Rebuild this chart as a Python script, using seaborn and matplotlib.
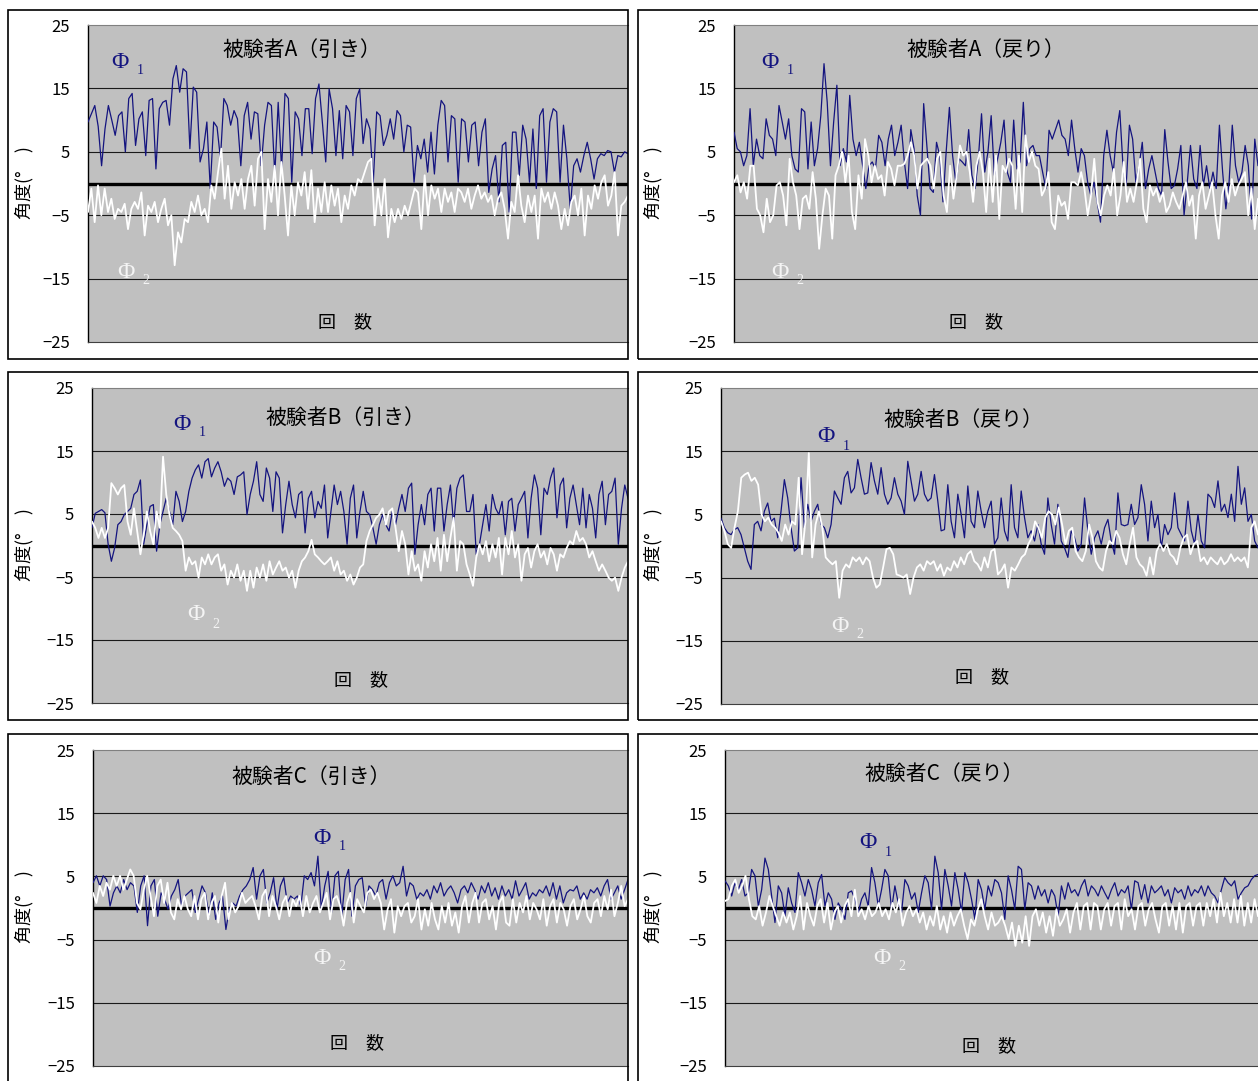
"""
Joint angle traces (Phi1 / Phi2) for three subjects, pull and return phases.
Six Excel-style panels laid out as a 3x2 collage.
"""

import matplotlib
matplotlib.use("Agg")
import matplotlib.pyplot as plt
from matplotlib.patches import Rectangle
import numpy as np
import seaborn as sns

W, H = 1258, 1081

# ---- data (degrees) ----
A_pull_phi1 = [9.7, 11, 12.3, 9, 2.8, 8.6, 12.3, 10, 7.6, 10.7, 11.3, 5, 13.4, 14.2, 6, 10.2, 11.3, 4.4, 13.1, 13.4,
               2.3, 11.8, 12.8, 13.1, 9.2, 16.5, 18.6, 14.4, 18.1, 17.6, 5.5, 15.2, 14.4, 3.4, 5.5, 9.7, -0.8, 9.7, 8.9, 3.9,
               13.4, 12.3, 9.2, 11.5, 10.2, 2.8, 10.7, 12.8, 7, 11.3, 11, 2.8, 9.2, 12.8, 12.3, 1.3, 12.8, 2.3, 14.2, 13.4,
               0.2, 11.3, 10.2, 4.4, 11.8, 11.8, 4.7, 13.4, 15.7, 9.7, 3.4, 14.9, 11.8, 4.4, 11.5, 3.9, 12.3, 11.3, 4.4, 13.4,
               14.9, 6.3, 10.2, 8.6, 0.2, 11.3, 10.7, 6, 7.6, 10.2, 7, 11.5, 10.7, 5, 9.2, 8.9, 0.2, 6, 3.9, 7,
               1.8, 8.1, 1.5, 9.2, 13.1, 12.3, 3.4, 10.7, 10.2, 0.2, 10.2, 9.7, 3.4, 9.2, 9.7, 2.8, 8.1, 10.2, -1.4, 2.3,
               4.4, -2.9, 6, 6.5, -4.5, 8.1, 8.1, 1.3, 9.2, 7, 0.2, 8.6, -0.8, 10.7, 11.8, 0.2, 9.7, 11.8, 11.3, 0.2,
               9.2, 3.9, -4, 2.8, 3.9, 1.8, 4.4, 6.5, 3.9, 0.7, 3.9, 4.7, 4.4, 5.2, 5, 1.8, 4.4, 4.2, 5, 4.7]
A_pull_phi2 = [-4.5, -0.8, -6.1, -0.3, -5, -0.8, -4.5, -2.4, -5.6, -4, -4.5, -3.2, -7.2, -4, -2.9, -4, -1.4, -8.2, -3.5, -4.5,
               -2.9, -6.1, -4, -2.4, -6.6, -5, -12.9, -7.7, -9.3, -5.6, -6.1, -2.9, -4.5, -1.9, -5, -4, -6.1, -0.3, -2.4, 1.8,
               5.5, -2.4, 2.8, -4, 0.2, -1.9, 0.7, -4, 0.7, 2.8, -3.5, 3.9, 5, -7.2, 0.7, -2.9, 2.8, -5, 3.4, -1.9,
               -8.2, -0.3, -5, 0.2, -1.9, 1.8, -4, 2.1, -6.1, -0.8, -4.5, 0.2, -4.5, -0.3, -3.5, -0.8, -6.1, -1.9, -4, -0.3,
               -1.9, 0.7, 0.2, 1.8, 3.4, 3.9, -6.6, -0.8, -5, 0.7, -8.5, -4, -6.1, -4, -5.6, -3.5, -5, -2.9, -0.8, -1.4,
               -7.2, 1.3, -5, -0.3, -2.4, -0.8, -4.5, -0.8, -2.9, -1.4, -4.5, -0.8, -1.4, -2.9, -0.8, -4, -1.9, -0.3, -2.4, -1.4,
               -2.9, -1.9, -5, -2.4, -1.4, -4, -8.7, -2.9, -4.5, 1.3, -3.5, -6.1, -1.9, -4.5, -1.9, -8.7, -0.8, -2.9, -1.4, -4,
               -1.4, -3.5, -7.2, -4, -6.6, -2.9, -1.9, -5, -0.8, -8.2, -1.9, -4, -0.3, -2.4, 0.2, 1.3, -3.5, -1.9, 1.8, -8.2,
               -3.5, -2.9, -1.9]

A_ret_phi1 = [8.1, 5.5, 5, 2.8, 4.4, 11.8, 2.8, 7, 4.4, 3.9, 10.2, 7.6, 7, 4.4, 12.3, 9.7, 7, 10.2, 4.4, 2.3,
              1.8, 11.8, 11.3, 2.3, 9.7, 2.8, 5.5, 10.7, 18.9, 12.8, 2.8, 9.7, 15.5, 2.8, 5.5, 3.4, 13.9, 7, 4.4, 6.5,
              2.8, -0.8, 2.8, 3.4, 2.3, 7.6, 6.5, 2.8, 7, 9.2, 4.4, 6.5, 9.2, 3.4, -0.8, 8.5, 5.5, -1.9, -5, 12.6,
              6, -0.8, -1.4, 6.5, 4.4, -2.9, 5, 12, 4.4, 0.2, 3.9, 3.4, 2.8, 8.5, 1.3, -0.8, 3.9, 11, 1.8, 5,
              10.7, 1.3, 3.9, 6.5, 10, 1.8, 0.2, 10, 2.3, 3.4, 12.8, 2.8, 5.5, 6, 4.4, 4.4, 1.8, -0.8, 8.4, 7,
              8.5, 10, 7.6, 7, 4.4, 10, 5.5, 1.8, 5.5, 4.4, 0.2, -1.9, 0.2, -2.9, -6.1, 4.4, 8.4, 4.4, 1.8, 8.1,
              11.5, 2.8, -0.3, 9.2, 7, 0.2, 2.8, 6.5, -0.8, 2.3, 4.4, 1.8, -0.8, -1.9, 8.5, 3.4, -0.8, -0.3, 2.3, 6,
              -5, 0.2, 6, 0.7, -0.8, 6, -0.3, 2.8, -0.8, 1.8, -0.8, 9.2, 1.8, -4, 0.2, 9.2, 2.8, 0.2, 1.8, 6,
              2.8, -5.6, 7, 2.8]
A_ret_phi2 = [0.2, 1.3, -1.4, 0.2, -2.4, 2.8, 2.8, -4, -5, -7.7, -2.4, -6.1, -5, -0.3, 0.2, -1.9, -6.6, 3.9, 0.2, -1.9,
              -7.2, -2.4, -1.9, -4, 1.8, -2.4, -10.3, -5, -0.8, -1.9, -8.7, 1.3, 2.8, 5, 0.2, 4.4, -4.5, -7.2, 1.3, -2.4,
              7, 4.4, 0.2, 2.8, 0.7, 1.3, -1.9, 3.4, 2.3, -0.3, 2.8, 2.8, 3.1, 4.4, 6.5, 4.4, -0.8, 2.8, 3.4, 3.9,
              2.8, -0.8, 3.9, 5, -1.9, -4.5, 2.8, -2.4, 1.3, 6, 4.4, 5, 1.8, -2.9, 2.8, 5, 1.8, -4.5, 3.9, -2.9,
              4.4, -5.6, 2.8, 1.8, 3.9, 2.8, -4, 4.4, -4.5, 7.6, 3.4, 5, 2.8, 2.3, -1.9, -0.8, 1.8, -6.1, -7.2, -1.9,
              -3.5, -2.9, -5.6, 0.2, 0.2, -0.3, 1.8, -0.8, -5, -1.9, 3.9, -2.9, -5, -1.9, -0.3, -1.9, 2.3, -5, -1.9, 3.4,
              -2.9, -0.8, -2.9, 0.2, 3.9, -4, -6.1, -0.3, -1.9, -0.8, -2.9, -1.4, -4.5, -3.5, -1.4, -2.9, -4, -1.9, 0.2, -3.5,
              -1.9, -8.7, -1.9, 0.2, -4, -1.9, 0.2, -5, -8.7, -1.9, 0.2, -2.9, 0.7, -1.9, -0.3, 0.7, 1.8, -5, -0.8, -7.2,
              -2.4]

B_pull_phi1 = [2.8, 5.1, 5.4, 5.7, 5.2, 0.2, -2.5, -0.4, 3.3, 3.8, 4.9, 5.4, 5.9, 8.1, 8.6, 10.4, 0.2, 3.3, 6.2, 6.5,
               -0.9, 3.3, 5.4, 7.5, 5.4, 3.3, 8.6, 7, 3.8, 5.4, 8.6, 10.7, 12, 12.8, 10.7, 13.3, 13.8, 10.9, 12.3, 13.3,
               11.7, 9.4, 10.7, 10.2, 8.1, 10.9, 11.2, 11.7, 4.9, 8.1, 10.2, 13.3, 8.1, 7, 12.3, 10.7, 5.4, 11.7, 10.7, 2,
               6.5, 10.2, 6.5, 4.4, 8.1, 8.6, 2, 7.5, 8.6, 4.4, 7, 5.9, 9.6, 1.2, 5.4, 9.6, 6.5, 8.6, 5.4, 0.2,
               7.5, 9.6, 1.2, 5.4, 8.6, 5.4, 4.9, 2.8, 0.2, 3.3, 4.9, 3.3, 2.3, 5.4, 3.3, 5.9, 8.1, 5.4, 9.1, 9.9,
               -1.4, 3.3, 6.5, 3.3, 8.1, 9.1, 2.3, 9.1, 9.1, 2.3, 6.5, 9.6, 3.3, 9.1, 10.7, 11.2, 5.4, 5.4, 8.1, -1.4,
               0.2, 3.3, 6.5, 2.3, 8.1, 5.9, 4.9, 7, 1.7, 7, 7.5, 2.3, 6.5, 7.5, 8.6, 1.2, 7.5, 11.2, 9.1, 1.7,
               9.1, 8.1, 10.7, 12.3, 4.4, 9.6, 10.7, 2.8, 7.5, 9.6, 6.5, 3.3, 9.1, 2.8, 8.1, 5.9, 1.2, 8.1, 10.2, 3.3,
               8.1, 8.6, 10.7, 0.2, 5.9, 9.6, 7.5]
B_pull_phi2 = [3.8, 2.8, 1.2, 2.8, 1.2, 2.8, 9.9, 9.1, 8.1, 9.1, 9.6, 3.8, 1.7, 5.9, 2.3, -1.4, 1.7, 5.4, 2.3, 0.2,
               5.4, 2.8, 14.1, 8.1, 4.9, 2.8, 2.3, 1.7, 0.7, -4, -1.9, -3, -2.5, -5.1, -1.9, -3, -1.4, -3, -1.9, -1.4,
               -4, -3, -6.2, -4, -5.1, -3, -5.6, -4, -7.2, -4, -6.7, -3.5, -5.1, -3, -5.6, -2.5, -4.6, -3.5, -2.5, -4,
               -3.5, -5.1, -4, -6.7, -4, -2.5, -1.9, -0.9, 0.9, -1.4, -1.9, -2.5, -3, -2.5, -1.9, -4, -2.5, -4.6, -4, -5.6,
               -4.6, -6.2, -5.1, -3.5, -3, 0.7, 2.3, 3.3, 4.4, 4.9, 5.9, 3.3, 5.4, 5.9, 2.8, -0.9, 2.3, 0.2, -4.6, -0.9,
               -4, -3, -5.6, -0.9, -3.5, 0.2, -2.5, 1.2, -4, 1.7, -2.5, 1.2, 4.4, -4, 0.7, 0.2, -3, -4.6, -6.4, -1.9,
               0.2, -1.4, 0.7, -2.5, 0.2, -1.9, 1.2, -4.6, 1.2, -1.4, 2.3, -1.9, 0.2, -5.6, -1.4, -0.4, -3.5, -0.9, 0.2, -1.9,
               -0.9, -3, -0.4, -1.4, -4, -1.4, -1.9, -0.4, 0.7, 0.2, 2.3, 0.7, 1.2, 0.2, -1.9, -0.9, -2.5, -4, -3, -4,
               -5.1, -5.6, -5.1, -7.2, -5.1, -3.5, -2.5]

B_ret_phi1 = [4.4, 2.9, 2.1, 1.8, 2.6, 2.9, 1.8, -0.3, -2.4, -3.7, 3.4, 3.9, 2.4, 5.5, 6.8, 3.9, 4.4, 1.3, 5.5, 10.5,
              7.6, 2.9, -0.8, -0.3, 10.8, 2.9, 6.6, 3.9, 5.5, 6.6, 3.4, 2.9, 1.3, 3.4, 8.7, 7.6, 6.6, 10.8, 11.8, 8.4,
              9.2, 13.7, 10.8, 8.2, 8.4, 13.2, 10.3, 8.2, 12.4, 8.2, 6.6, 7.6, 10.8, 8.2, 7.1, 5, 13.4, 10.3, 7.1, 8.2,
              11.8, 8.2, 7.1, 7.6, 11.3, 7.1, 2.4, 2.6, 9.7, 3.9, 1.3, 8.2, 5, 1.3, 9.5, 3.9, 2.9, 8.7, 5.5, 2.9,
              5.5, 7.1, 0.3, 1.3, 7.6, 2.4, 0.8, 9.7, 2.9, 1.3, 8.7, 4.5, 1.3, 2.4, 0.8, 3.4, 0.3, -1.3, 7.6, 3.4,
              0.3, 6.6, 0.8, -0.3, -1.8, 2.4, 1.3, -0.8, 0.3, 7.6, 2.4, -1.3, 1.3, 2.4, 0.3, 2.9, 4.2, 0.8, -1.3, 8.4,
              3.4, 3.2, 3.4, 6.6, 3.4, 4.5, 9.7, 6.6, 0.8, 7.1, 2.9, 5, -0.3, 3.4, 1.8, 2.9, 8.4, 2.9, 1.8, 0.8,
              7.1, 2.4, 0.3, 5, 0.8, -0.3, 8.2, 7.6, 6.1, 10.3, 5.5, 6.6, 4.5, 8.2, 3.9, 12.6, 6.6, 9.2, 3.9, 5,
              0.8, -0.3]
B_ret_phi2 = [3.9, 2.4, 0.3, -0.3, 2.9, 5.5, 10.8, 11.3, 11.6, 10.3, 10.8, 9.7, 5, 3.9, 4.5, 3.4, 2.9, 2.1, 0.8, 3.4,
              1.8, 3.9, 3.4, 10.8, -1.3, 3.9, 14.7, -1.8, 3.4, 5.5, 2.9, -1.8, -2.4, -2.9, -2.4, -8.2, -3.9, -2.9, -3.4, -1.8,
              -2.4, -1.8, -2.9, -1.8, -2.4, -5, -6.6, -6.1, -3.4, -0.5, -0.3, -1.3, -4.5, -4.7, -5, -4.5, -7.6, -5, -3.4, -2.9,
              -3.9, -2.4, -2.9, -2.4, -3.9, -2.9, -4.7, -3.4, -3.9, -2.4, -3.4, -1.8, -2.9, -1.3, -0.8, -2.4, -2.9, -3.9, -1.8, -3.4,
              -0.8, -0.5, -4.5, -3.9, -2.9, -6.6, -3.4, -3.9, -2.9, -1.8, -1.3, 0.3, 1.3, 3.9, 2.9, 1.3, 4.5, 5.5, 5, 3.4,
              6.1, 3.4, 0.3, 2.4, 2.9, -0.8, -1.8, -2.4, -0.8, 3.4, 1.3, -2.4, -3.4, -3.9, -0.8, 0.8, 0.3, 2.4, 1.3, -1.3,
              -2.9, 0.3, 2.9, -1.8, -2.9, -3.4, -4.7, -1.8, -4.5, -0.8, 0.3, -0.8, 0.3, -1.3, -1.8, -2.9, -0.3, 1.3, 1.8, -1.3,
              0.3, 0.8, -2.4, -1.8, -2.9, -1.8, -2.4, -2.9, -1.8, -2.9, -2.4, -1.3, -2.4, -1.8, -2.4, -1.8, -3.4, 2.9, 3.9, 1.8]

C_pull_phi1 = [4, 5.1, 3.5, 5.1, 4.5, 0.3, 2.4, 3.5, 2.4, 4.5, 2.9, 4, 3.5, -0.7, 3.5, 5.1, -2.8, 3.5, 4.5, -1.3,
               2.4, 1.4, -0.2, 1.9, 2.9, 4.5, 0.3, 1.9, 2.4, 2.9, -0.7, 1.4, 3.5, 2.4, -1.3, 2.4, -1.8, 0.8, 1.9, -3.4,
               -0.2, 0.8, 0.3, 1.9, 2.9, 3.5, 4.5, 6.4, 1.4, 5.1, 6.1, 0.8, 2.4, 4.8, -0.2, 3.5, 4.8, 0.8, 1.9, 1.4,
               1.9, 0.3, 5.1, 4.5, 5.6, 3.5, 8.2, -0.2, 3.5, 5.8, -0.7, 5.1, 5.8, -1.3, 4.5, 6.1, -1.3, 3.5, 4.5, 4.8,
               0.3, 3.5, 2.9, 1.9, 4, 4.5, 1.4, 4, 5.1, 3.5, 4, 6.6, 1.9, 4, 3.5, 1.4, 2.4, 1.9, 2.9, 1.4,
               3.5, 2.4, 4, 1.9, 2.9, 3.5, 2.4, 0.8, 2.9, 3.5, 2.4, 4, 2.9, 1.4, 3.5, 2.4, 4, 1.9, 3.2, 1.4,
               3.5, 1.9, 2.9, 1.4, 4.3, 1.9, 2.9, 4, 1.4, 2.4, 1.9, 2.9, 2.4, 3.5, 1.9, 4, 1.4, 3.5, 0.8, 2.4,
               2.9, 2.7, 3.5, 1.4, 2.4, 1.4, 2.9, 2.4, 3.2, 1.9, 3.5, 4.5, 1.4, 2.4, 3.5, 1.4, 2.9, 4.5]
C_pull_phi2 = [2.4, 0.8, 3.5, 1.9, 4, 2.9, 5.1, 3.5, 5.1, 2.9, 4.5, 6.1, 5.1, 0.8, -0.2, 2.9, 5.1, 1.9, -1.3, 3.5,
               4.5, 0.8, 4, -0.7, -1.8, 1.4, -0.2, 1.9, -0.2, -1.3, 1.9, -1.8, 1.4, 2.4, -1.8, 0.8, 1.9, -2.3, 1.9, 4,
               -1.8, 0.8, -0.7, 0.3, 2.4, 0.8, 1.4, 1.9, 0.3, -1.8, 1.9, 2.9, -1.3, 1.9, 0.3, -1.8, 0.8, 1.9, -1.3, 1.4,
               0.3, 1.9, -1.3, 1.9, -0.7, 0.8, 1.9, -0.7, 0.8, 2.4, -1.8, 1.4, 1.9, 0.3, -2.8, 0.8, 2.4, -2.3, 1.4, 0.3,
               -0.7, 2.4, 2.9, 1.4, 2.4, 0.8, -3.4, -0.2, 1.4, -3.9, 0.3, -1.3, 0.3, 0.8, -2.3, -1.3, 1.4, -3.4, -0.2, -2.8,
               0.8, -1.8, -3.4, 0.3, -2.3, 0.8, -2.8, -0.7, -3.9, 0.3, 1.9, -2.3, 0.8, 2.4, -2.3, 0.8, 1.4, -1.8, 0.3, -3.4,
               0.8, 1.9, -2.3, -2.8, 1.4, -2.3, 0.8, -0.7, 1.9, -1.8, 0.8, -0.2, -1.8, 1.4, -2.8, 0.3, 1.4, -2.3, 0.8, -0.2,
               -2.8, 0.3, 1.4, -1.8, -0.2, 1.9, -1.3, -2.3, 0.8, 1.4, -1.3, 1.9, -0.2, 2.9, -1.3, 0.8, 3.5, 0.3, 1.4]

C_ret_phi1 = [4.3, 3.5, 1.9, 4, 2.9, 4.5, 1.9, 2.4, 6.1, 5.1, 0.3, 2.9, 7.9, 6.1, 1.9, -2.3, 3.5, 2.4, -1.3, 3.2,
              0.8, -0.7, 5.6, 4, 1.9, 4.5, 2.9, 0.3, 4, 5.3, 0.3, 2.4, 1.4, -1.8, 0.8, -0.2, -1.8, 2.4, 2.7, 1.4,
              -0.7, 1.4, 2.4, 0.3, 6.4, 4, 0.3, 2.9, 6.1, 5.1, -0.2, 3.5, 0.8, -0.7, 4.5, 3.5, 1.4, 2.4, -0.7, 2.4,
              5.1, 4, -0.2, 8.2, 5.6, -0.2, 6.1, 3.5, 0.3, 5.6, 2.9, -0.7, 5.6, 4, 1.4, -1.8, 4.5, 2.9, -0.2, 3.5,
              1.9, 4.5, 4, 2.4, -1.8, 5.1, 2.9, -0.2, 6.6, 6.1, -0.2, 4, 3.5, 1.4, 3.5, 1.9, 2.9, 0.8, 2.9, 1.9,
              -1.3, 3.5, 1.4, 4, 2.4, 2.9, 1.9, 3.5, 4.5, 1.9, 3.5, 2.9, 1.9, 3.5, 2.4, 1.4, 2.9, 4, 1.9, 2.9,
              2.4, 3.5, -0.2, 4.3, 4, 1.4, 3.7, 0.8, 3.5, 2.4, 2.9, 3.5, 1.9, 2.9, 0.8, 3.2, 2.4, 2.9, 1.4, 3.5,
              1.9, 2.9, 2.4, 3.5, 1.9, 3.5, 2.4, 1.9, 0.8, 2.9, 4.8, 4, 3.5, 4.3, 1.4, 2.4, 3.2, 3.5, 4.5, 5.1,
              5.3]
C_ret_phi2 = [1.1, 1.4, 3.5, 4.5, 2.4, 3.5, 5.1, 1.4, -1.3, -1.8, 0.3, -2.8, -0.7, 1.9, 0.3, -1.3, -2.8, -0.7, -2.3, -0.7,
              -3.4, -1.3, 1.9, -3.4, 0.8, -1.3, -2.8, 0.3, 1.4, -2.3, 0.8, -3.4, -0.7, 0.3, -2.3, 0.3, 1.4, -1.3, 2.9, -1.3,
              -0.2, -1.8, 0.3, -1.3, -0.7, 0.8, -1.3, -0.2, -1.8, 0.8, -0.7, 1.4, -2.8, -0.7, 0.3, -1.3, -0.2, -2.3, -0.7, -3.4,
              -1.3, -2.8, 0.3, -3.4, -1.3, -3.9, -0.7, -2.8, -1.3, -0.2, -2.8, -4.9, -1.8, -2.8, -0.2, 1.4, -1.3, -3.4, -0.7, -2.8,
              -2.3, -1.3, -2.8, -4.9, -2.3, -6, -2.8, -5.5, -1.3, -6, -1.3, -0.2, -2.8, -0.7, -3.9, -1.3, -4.4, -0.2, -2.8, -1.8,
              -0.2, -3.9, -0.7, 0.8, -3.4, 0.3, 0.8, -3.4, 0.8, 0.3, -3.4, -0.2, 0.8, -2.8, 0.3, 0.8, -3.4, 1.4, -1.3, -0.2,
              -3.4, 0.3, 0.8, -2.8, -0.2, 0.8, -1.8, -3.9, 0.3, 0.8, -2.8, 0.3, -3.4, 0.8, -3.9, 0.3, 0.8, -2.8, 0.3, 0.8,
              -2.8, 0.8, -1.3, 1.4, -2.3, 2.4, -1.3, 0.8, -2.3, 1.4, -2.3, 1.9, -2.8, 0.8, -2.3, 1.4, -1.3]

Y_TICKS = [-25, -15, -5, 5, 15, 25]
Y_LABEL = "角度(°\u3000)"
X_LABEL = "回\u3000数"

# panel layout in reference pixels: plot rect (l, t, r, b), outer box (l, t, r, b),
# and centres of title / Phi labels / x label, y label x position
PANELS = [
    dict(title="被験者A（引き）", phi1=A_pull_phi1, phi2=A_pull_phi2,
         rect=(88, 25, 628, 342), box=(8, 10, 628, 359),
         title_xy=(302, 50), phi1_xy=(120, 62), phi2_xy=(126, 272), xlab_xy=(345, 322), ylab_x=24),
    dict(title="被験者A（戻り）", phi1=A_ret_phi1, phi2=A_ret_phi2,
         rect=(734, 25, 1258, 342), box=(638, 10, 1400, 359),
         title_xy=(986, 50), phi1_xy=(770, 62), phi2_xy=(780, 272), xlab_xy=(976, 322), ylab_x=653),
    dict(title="被験者B（引き）", phi1=B_pull_phi1, phi2=B_pull_phi2,
         rect=(92, 388, 628, 703), box=(8, 372, 628, 720),
         title_xy=(345, 418), phi1_xy=(182, 424), phi2_xy=(196, 615), xlab_xy=(361, 680), ylab_x=24),
    dict(title="被験者B（戻り）", phi1=B_ret_phi1, phi2=B_ret_phi2,
         rect=(721, 388, 1258, 704), box=(638, 372, 1400, 720),
         title_xy=(963, 420), phi1_xy=(826, 437), phi2_xy=(840, 626), xlab_xy=(982, 677), ylab_x=653),
    dict(title="被験者C（引き）", phi1=C_pull_phi1, phi2=C_pull_phi2,
         rect=(93, 750, 628, 1066), box=(8, 734, 628, 1200),
         title_xy=(311, 777), phi1_xy=(322, 838), phi2_xy=(322, 958), xlab_xy=(357, 1043), ylab_x=24),
    dict(title="被験者C（戻り）", phi1=C_ret_phi1, phi2=C_ret_phi2,
         rect=(725, 750, 1258, 1066), box=(638, 734, 1400, 1200),
         title_xy=(944, 774), phi1_xy=(868, 843), phi2_xy=(882, 958), xlab_xy=(989, 1046), ylab_x=653),
]

PHI1_COLOR = "#14147f"
PHI2_COLOR = "#ffffff"
PLOT_BG = "#c0c0c0"

sns.set_style("white")
plt.rcParams["font.family"] = ["Noto Sans CJK JP", "DejaVu Sans"]


def fx(x):
    return x / W


def fy(y):
    return 1 - y / H


def draw_panel(fig, p):
    l, t, r, b = p["rect"]
    ax = fig.add_axes([fx(l), fy(b), (r - l) / W, (b - t) / H])
    ax.set_facecolor(PLOT_BG)

    for vals, color, lw in ((p["phi1"], PHI1_COLOR, 0.9), (p["phi2"], PHI2_COLOR, 1.3)):
        pos = np.linspace(0, 1, len(vals))
        sns.lineplot(x=pos, y=vals, ax=ax, color=color, linewidth=lw, estimator=None, zorder=3)

    ax.set_xlim(0, 1)
    ax.set_ylim(-25, 25)
    ax.set_yticks(Y_TICKS)
    ax.set_yticklabels([str(v).replace("-", "\u2212") for v in Y_TICKS], fontsize=12)
    ax.set_xticks([])
    ax.set_xlabel("")
    ax.set_ylabel("")
    ax.tick_params(axis="y", direction="out", length=4, width=0.8, pad=9, colors="black")

    for v in (-15, -5, 5, 15):
        ax.axhline(v, color="#1a1a1a", linewidth=0.8, zorder=1)
    ax.axhline(0, color="black", linewidth=2.4, zorder=2)

    ax.spines["left"].set_color("black")
    ax.spines["left"].set_linewidth(1.0)
    ax.spines["top"].set_color("#808080")
    ax.spines["bottom"].set_color("#404040")
    ax.spines["right"].set_visible(False)

    bl, bt, br, bb = p["box"]
    fig.add_artist(Rectangle((fx(bl), fy(bb)), (br - bl) / W, (bb - bt) / H,
                             transform=fig.transFigure, fill=False,
                             edgecolor="black", linewidth=1.2, zorder=10))

    tx, ty = p["title_xy"]
    fig.text(fx(tx), fy(ty), p["title"], fontsize=15, ha="center", va="center", color="black")
    xx, xy = p["xlab_xy"]
    fig.text(fx(xx), fy(xy), X_LABEL, fontsize=13, ha="center", va="center", color="black")
    cy = (t + b) / 2 - 1
    fig.text(fx(p["ylab_x"]), fy(cy), Y_LABEL, fontsize=13, rotation=90,
             ha="center", va="center", color="black")

    for (px, py), sub, color in ((p["phi1_xy"], "1", PHI1_COLOR), (p["phi2_xy"], "2", "#f4f4f4")):
        fig.text(fx(px), fy(py), "Φ", fontsize=17, family="Liberation Serif",
                 ha="center", va="center", color=color)
        fig.text(fx(px + 20), fy(py + 9), sub, fontsize=10, family="Liberation Serif",
                 ha="center", va="center", color=color)


fig = plt.figure(figsize=(W / 100, H / 100), dpi=100, facecolor="white")
for panel in PANELS:
    draw_panel(fig, panel)

fig.savefig("out.png", dpi=100, facecolor="white")
